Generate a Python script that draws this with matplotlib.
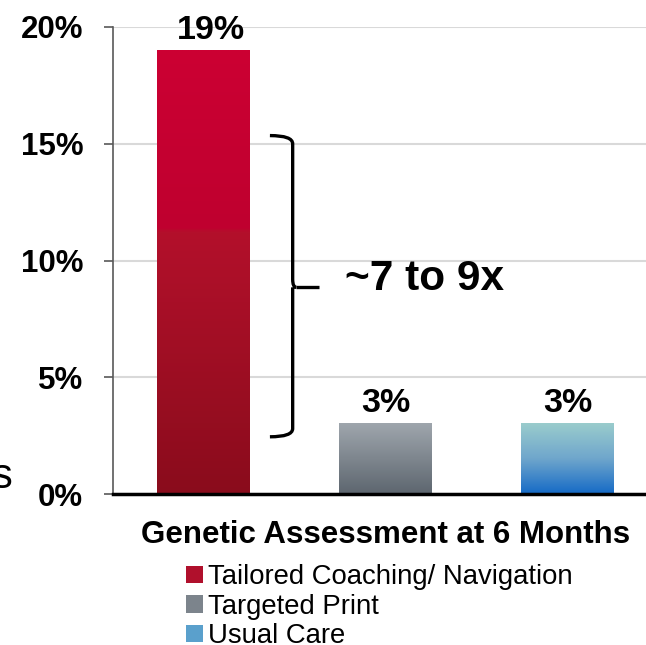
import numpy as np
import matplotlib.pyplot as plt
from matplotlib.colors import LinearSegmentedColormap
from matplotlib.patches import Patch, PathPatch
from matplotlib.path import Path

plt.rcParams['font.family'] = ['Liberation Sans', 'DejaVu Sans']

groups = ['Tailored Coaching/ Navigation', 'Targeted Print', 'Usual Care']
values = [19, 3, 3]
labels = ['19%', '3%', '3%']
yticks = [0, 5, 10, 15, 20]
ytick_labels = ['0%', '5%', '10%', '15%', '20%']
xlabel = 'Genetic Assessment at 6 Months'
note = '~7 to 9x'

# gradient stops per bar, bottom -> top
grads = [
    [(0.0, '#8a0c1c'), (0.59, '#b3102b'), (0.60, '#bf002f'), (1.0, '#cc0033')],
    [(0.0, '#5d666f'), (1.0, '#9fa6ad')],
    [(0.0, '#156ac6'), (0.5, '#6fa6cc'), (1.0, '#9acccc')],
]
legend_colors = ['#b0102c', '#7c848c', '#5aa0cc']

# bracket in data units (x, y_low, y_mid, y_high)
br_x, br_lo, br_mid, br_hi = 0.49, 2.45, 8.85, 15.35

fig = plt.figure(figsize=(6.46, 6.45), dpi=100)
ax = fig.add_axes([113/646, 1 - 494/645, 1 - 113/646, (494 - 27)/645])

width = 0.51
x = np.arange(len(values))
label_dx = [0.04, 0.0, 0.0]
for i, v in enumerate(values):
    cmap = LinearSegmentedColormap.from_list('g%d' % i, grads[i])
    grad = np.linspace(0, 1, 256).reshape(-1, 1)
    ax.imshow(grad, cmap=cmap, origin='lower', aspect='auto',
              extent=[x[i] - width/2, x[i] + width/2, 0, v], zorder=2)
    ax.text(x[i] + label_dx[i], v + 0.2, labels[i], ha='center', va='bottom',
            fontsize=24.5, fontweight='bold', zorder=4)

ax.set_xlim(-0.497, 2.431)
ax.set_ylim(0, 20)
ax.set_yticks(yticks)
ax.set_yticklabels(ytick_labels, fontsize=22.5, fontweight='bold')
ax.set_xticks([])
ax.tick_params(axis='y', length=6.5, width=1.2, color='#595959', pad=15)
ax.yaxis.grid(True, color='#d9d9d9', linewidth=1.5, zorder=0)
ax.set_axisbelow(True)
for s in ['top', 'right']:
    ax.spines[s].set_visible(False)
ax.spines['left'].set_color('#595959')
ax.spines['left'].set_linewidth(1.2)
ax.spines['bottom'].set_color('black')
ax.spines['bottom'].set_linewidth(2.5)
ax.spines['bottom'].set_zorder(5)
ax.set_xlabel(xlabel, fontsize=22.5, fontweight='bold')
ax.xaxis.set_label_coords(x[1], -0.056, transform=ax.get_xaxis_transform())

# curly bracket
dx = 0.125
r = 0.35
verts = [
    (br_x - dx, br_hi), (br_x, br_hi), (br_x, br_hi - r),
    (br_x, br_mid + r), (br_x, br_mid), (br_x + 0.02, br_mid),
    (br_x, br_mid), (br_x, br_mid - r),
    (br_x, br_lo + r), (br_x, br_lo), (br_x - dx, br_lo),
]
codes = [Path.MOVETO, Path.CURVE3, Path.CURVE3,
         Path.LINETO, Path.CURVE3, Path.CURVE3,
         Path.MOVETO, Path.CURVE3,
         Path.LINETO, Path.CURVE3, Path.CURVE3]
ax.add_patch(PathPatch(Path(verts, codes), fill=False, lw=2.4,
                       edgecolor='black', zorder=4, clip_on=False))
ax.plot([br_x + 0.02, br_x + 0.145], [br_mid, br_mid], color='black',
        lw=2.4, zorder=4, solid_capstyle='butt')
ax.text(br_x + 0.29, br_mid + 0.35, note, fontsize=30.5, fontweight='bold',
        ha='left', va='center')

handles = [Patch(facecolor=c, edgecolor='none') for c in legend_colors]
fig.legend(handles, groups, loc='upper left', bbox_to_anchor=(186/646, 1 - 564/645),
           frameon=False, fontsize=19.8, handlelength=0.6, handleheight=0.6,
           handletextpad=0.2, labelspacing=0.13, borderpad=0, borderaxespad=0)

fig.text(13/646, 1 - 477/645, 's', fontsize=30, ha='right', va='center')

fig.savefig('out.png', dpi=100)
